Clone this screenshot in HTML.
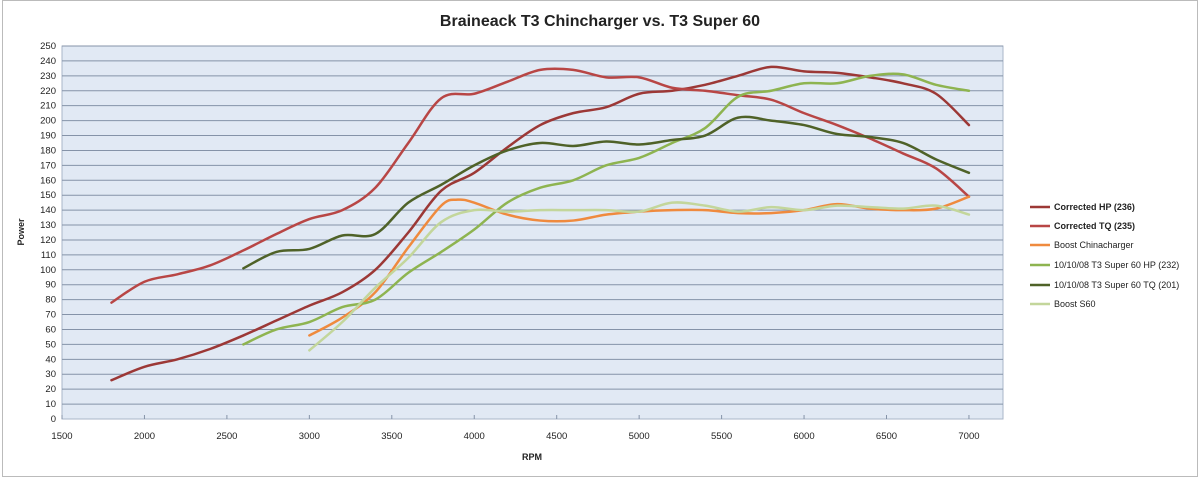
<!DOCTYPE html>
<html><head><meta charset="utf-8"><style>
body{margin:0;background:#fff;}
svg{display:block;font-family:"Liberation Sans",Arial,sans-serif;}
</style></head><body>
<svg id="s" width="1200" height="478" xmlns="http://www.w3.org/2000/svg">
<rect x="2.5" y="0.5" width="1195" height="476" fill="#fff" stroke="#bbb"/>
<text x="600" y="26" font-size="16" font-weight="bold" text-anchor="middle" fill="#222">Braineack T3 Chincharger vs. T3 Super 60</text>
<rect x="62" y="46" width="941" height="373" fill="#e1e9f4" stroke="#a9b6c8"/>
<g id="grid"></g>
<g id="lines" fill="none" stroke-width="2.5" stroke-linejoin="round" stroke-linecap="round"></g>
<text x="24" y="232" font-size="9" font-weight="bold" transform="rotate(-90 24 232)" text-anchor="middle" fill="#222">Power</text>
<text x="532" y="460" font-size="9" font-weight="bold" text-anchor="middle" fill="#222">RPM</text>
<g font-size="9" fill="#222" id="leg"></g>
</svg>
<script>
const X=r=>62+(r-1500)*0.1649, Y=v=>419-v*1.492;
let g='';
for(let v=0;v<=250;v+=10){const y=Y(v);if(v>0)g+=`<line x1="62" x2="1003" y1="${y}" y2="${y}" stroke="#8593a8" stroke-width="1"/>`;g+=`<text x="56" y="${y+3}" font-size="9.5" text-anchor="end" fill="#222">${v}</text>`;}
for(let r=1500;r<=7000;r+=500){const x=X(r);g+=`<line x1="${x}" x2="${x}" y1="419" y2="415" stroke="#8593a8"/><text x="${x}" y="439" font-size="9.5" text-anchor="middle" fill="#222">${r}</text>`;}
document.getElementById('grid').innerHTML=g;
function ser(start,vals){return vals.map((v,i)=>[X(start+i*200),Y(v)]);}
const S=[
["#9c3836",ser(1800,[26,35,40,47,56,66,76,85,100,125,153,165,182,197,205,209,218,220,224,230,236,233,232,229,225,218,197]),"Corrected HP (236)",1],
["#b84645",ser(1800,[78,92,97,103,113,124,134,140,155,185,215,218,226,234,234,229,229,222,220,217,214,205,197,188,178,168,149]),"Corrected TQ (235)",1],
["#ef8a3e",[[X(3000),Y(56)],[X(3200),Y(68)],[X(3400),Y(85)],[X(3600),Y(115)],[X(3800),Y(143)],[X(3900),Y(147)],[X(4000),Y(145)],...ser(4200,[137,133,133,137,139,140,140,138,138,140,144,141,140,141,149])],"Boost Chinacharger",0],
["#8eb450",ser(2600,[50,60,65,75,80,98,112,127,145,155,160,170,175,185,195,216,220,225,225,230,231,224,220]),"10/10/08 T3 Super 60 HP (232)",0],
["#4f6228",ser(2600,[101,112,114,123,124,145,157,170,180,185,183,186,184,187,190,202,200,197,191,189,185,174,165]),"10/10/08 T3 Super 60 TQ (201)",0],
["#c3d69b",ser(3000,[46,65,88,108,132,140,139,140,140,140,139,145,143,139,142,140,143,142,141,143,137]),"Boost S60",0]];
function path(p){let d=`M${p[0][0]},${p[0][1]}`;for(let i=0;i<p.length-1;i++){const p0=p[Math.max(i-1,0)],p1=p[i],p2=p[i+1],p3=p[Math.min(i+2,p.length-1)];
d+=` C${p1[0]+(p2[0]-p0[0])/6},${p1[1]+(p2[1]-p0[1])/6} ${p2[0]-(p3[0]-p1[0])/6},${p2[1]-(p3[1]-p1[1])/6} ${p2[0]},${p2[1]}`;}return d;}
let l='',lg='';const ly=[207,226,245,265,285,304];
S.forEach((s,i)=>{l+=`<path d="${path(s[1])}" stroke="${s[0]}"/>`;lg+=`<line x1="1030" x2="1050" y1="${ly[i]}" y2="${ly[i]}" stroke="${s[0]}" stroke-width="2.5"/><text x="1054" y="${ly[i]+3}"${s[3]?' font-weight="bold"':''}>${s[2]}</text>`;});
document.getElementById('lines').innerHTML=l;document.getElementById('leg').innerHTML=lg;
</script>
</body></html>
